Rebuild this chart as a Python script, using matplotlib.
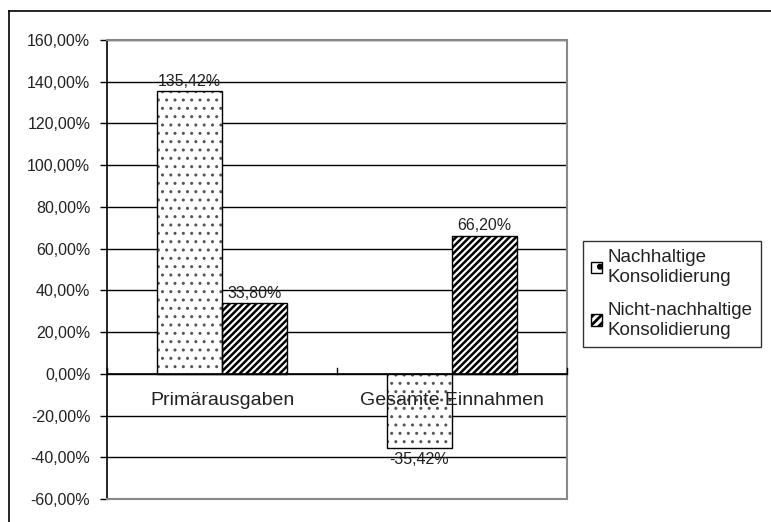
import matplotlib
matplotlib.use('Agg')
from matplotlib import pyplot as plt
from matplotlib.lines import Line2D

plt.rcParams['font.family'] = ['Liberation Sans', 'DejaVu Sans']

categories = ['Primärausgaben', 'Gesamte Einnahmen']
series_names = ['Nachhaltige\nKonsolidierung', 'Nicht-nachhaltige\nKonsolidierung']
nachhaltig = [135.42, -35.42]
nicht_nachhaltig = [33.80, 66.20]
yticks = [-60, -40, -20, 0, 20, 40, 60, 80, 100, 120, 140, 160]

def fmt(v):
    return ('%.2f%%' % v).replace('.', ',')

fig = plt.figure(figsize=(7.71, 5.22), dpi=100)
# outer chart frame (left and top visible)
fig.add_artist(Line2D([8.5 / 771, 8.5 / 771], [0, 1 - 10.5 / 522], color='black', linewidth=1.2,
                      transform=fig.transFigure))
fig.add_artist(Line2D([8.5 / 771, 1], [1 - 10.5 / 522, 1 - 10.5 / 522], color='black', linewidth=1.2,
                      transform=fig.transFigure))

ax = fig.add_axes([107 / 771, 1 - 499 / 522, 460 / 771, 459 / 522])

x = [0, 1]
w = 0.283
pos1 = [i - w / 2 for i in x]
pos2 = [i + w / 2 for i in x]

# dotted fill
plt.rcParams['hatch.linewidth'] = 1.0
ax.bar(pos1, nachhaltig, w, color='white', edgecolor='#555555', hatch='..', linewidth=0, zorder=3)
# striped fill
plt.rcParams['hatch.linewidth'] = 1.8
ax.bar(pos2, nicht_nachhaltig, w, color='white', edgecolor='black', hatch='/////', linewidth=0, zorder=3)
# outlines
b1 = ax.bar(pos1, nachhaltig, w, fill=False, edgecolor='black', linewidth=1, zorder=4)
b2 = ax.bar(pos2, nicht_nachhaltig, w, fill=False, edgecolor='black', linewidth=1, zorder=4)

for bars, vals in ((b1, nachhaltig), (b2, nicht_nachhaltig)):
    for rect, v in zip(bars, vals):
        cx = rect.get_x() + rect.get_width() / 2
        if v >= 0:
            ax.annotate(fmt(v), (cx, v), xytext=(0, 2), textcoords='offset points',
                        ha='center', va='bottom', fontsize=11.5, color='#222222', zorder=5)
        else:
            ax.annotate(fmt(v), (cx, v), xytext=(0, -3), textcoords='offset points',
                        ha='center', va='top', fontsize=11.5, color='#222222', zorder=5)

for i, c in zip(x, categories):
    ax.annotate(c, (i, 0), xytext=(0, -19), textcoords='offset points',
                ha='center', va='center', fontsize=14, color='#222222', zorder=5)

ax.set_xlim(-0.5, 1.5)
ax.set_ylim(-60, 160)
ax.set_yticks(yticks)
ax.set_yticklabels([fmt(v) for v in yticks], fontsize=11.5, color='#222222')
ax.set_xticks([])
for y in yticks:
    ax.axhline(y, color='black', linewidth=1, zorder=1)
ax.axhline(0, color='black', linewidth=1.2, zorder=4)
for xt in (-0.5, 0.5, 1.5):
    ax.plot([xt, xt], [0, 3], color='black', linewidth=1, zorder=4, clip_on=False)

for s in ('top', 'right', 'bottom'):
    ax.spines[s].set_color('#888888')
    ax.spines[s].set_linewidth(1.5)
ax.spines['left'].set_color('black')
ax.spines['left'].set_linewidth(1.2)
ax.tick_params(axis='y', direction='out', length=5, width=1, pad=7)

# legend handles
plt.rcParams['hatch.linewidth'] = 1.0
h1 = plt.Rectangle((0, 0), 1, 1, facecolor='white', edgecolor='black', hatch='.', linewidth=1)
plt.rcParams['hatch.linewidth'] = 2.0
h2 = plt.Rectangle((0, 0), 1, 1, facecolor='white', edgecolor='black', hatch='////', linewidth=1)
leg = fig.legend(handles=[h1, h2], labels=series_names, loc='upper left',
                 bbox_to_anchor=(583 / 771, 1 - 241 / 522), borderaxespad=0, fontsize=13.5,
                 frameon=True, fancybox=False, handlelength=0.55, handleheight=0.55,
                 handletextpad=0.3, borderpad=0.45, labelspacing=0.85,
                 labelcolor='#222222')
for t in leg.get_texts():
    t.set_linespacing(1.2)
leg.get_frame().set_edgecolor('black')
leg.get_frame().set_linewidth(1)

fig.savefig('out.png', dpi=100)
